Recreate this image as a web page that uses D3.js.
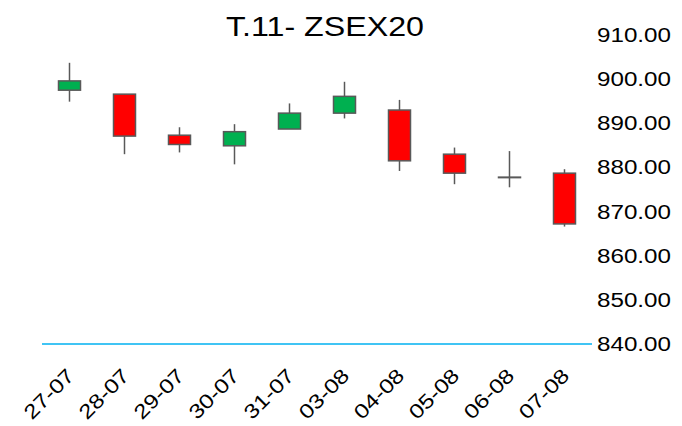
<!DOCTYPE html>
<html>
<head>
<meta charset="utf-8">
<script src="https://cdn.jsdelivr.net/npm/d3@7"></script>
<style>
  body { margin: 0; background: #fff; }
  text { font-family: "Liberation Sans", Arial, sans-serif; }
</style>
</head>
<body>
<div id="chart"></div>
<script>
// data
var dates = ['27-07','28-07','29-07','30-07','31-07','03-08','04-08','05-08','06-08','07-08'];
var opens  = [897.5, 896.6, 887.3, 884.9, 888.7, 892.3, 893.0, 883.0, 877.8, 878.7];
var highs  = [903.7, 896.6, 889.1, 889.8, 894.5, 899.4, 895.3, 884.5, 883.7, 879.6];
var lows   = [894.9, 883.0, 883.4, 880.7, 888.7, 891.1, 879.2, 876.2, 875.5, 866.6];
var closes = [899.6, 887.1, 885.2, 888.1, 892.3, 896.1, 881.5, 878.7, 877.8, 867.2];
var yTicks = [840, 850, 860, 870, 880, 890, 900, 910];

var data = dates.map(function(d, i) {
  return {date: d, open: opens[i], high: highs[i], low: lows[i], close: closes[i]};
});

var width = 682, height = 426;

var svg = d3.select('#chart').append('svg')
    .attr('width', width)
    .attr('height', height);

var x = d3.scaleBand()
    .domain(dates)
    .range([42, 592]);

var y = d3.scaleLinear()
    .domain([840, 910])
    .range([344, 35]);

// title (text in the original is a bit wide, so stretch it)
svg.append('text')
    .attr('transform', 'translate(325,36) scale(1.15,1)')
    .attr('text-anchor', 'middle')
    .style('font-size', '28px')
    .style('fill', '#000')
    .text('T.11- ZSEX20');

// base line
svg.append('line')
    .attr('x1', 42).attr('x2', 592)
    .attr('y1', y(840)).attr('y2', y(840))
    .style('stroke', '#00B0F0')
    .style('stroke-width', 1.5);

// y axis labels on the right
svg.selectAll('.ylab')
  .data(yTicks)
  .enter()
    .append('text')
    .attr('class', 'ylab')
    .attr('transform', function(d) { return 'translate(597,' + y(d) + ') scale(1.21,1)'; })
    .attr('dy', '0.35em')
    .style('font-size', '20px')
    .style('fill', '#000')
    .text(function(d) { return d3.format('.2f')(d); });

// x labels, rotated
svg.selectAll('.xlab')
  .data(dates)
  .enter()
    .append('text')
    .attr('class', 'xlab')
    .attr('text-anchor', 'end')
    .attr('transform', function(d) {
      return 'translate(' + (x(d) + x.bandwidth() / 2 + 6) + ',' + 377 + ') rotate(-45) scale(1.2,1)';
    })
    .style('font-size', '20px')
    .style('fill', '#000')
    .text(function(d) { return d; });

var candles = svg.selectAll('.candle')
  .data(data)
  .enter()
    .append('g')
    .attr('class', 'candle');

// wicks
candles.append('line')
    .attr('x1', function(d) { return x(d.date) + x.bandwidth() / 2; })
    .attr('x2', function(d) { return x(d.date) + x.bandwidth() / 2; })
    .attr('y1', function(d) { return y(d.high); })
    .attr('y2', function(d) { return y(d.low); })
    .style('stroke', '#595959')
    .style('stroke-width', 1.5);

var bw = 22;
// bodies
candles.append('rect')
    .attr('x', function(d) { return x(d.date) + x.bandwidth() / 2 - bw / 2; })
    .attr('y', function(d) { return y(Math.max(d.open, d.close)); })
    .attr('width', bw)
    .attr('height', function(d) { return Math.max(0.5, Math.abs(y(d.open) - y(d.close))); })
    .style('fill', function(d) { return d.close > d.open ? '#00B050' : (d.close < d.open ? '#FF0000' : '#595959'); })
    .style('stroke', '#595959')
    .style('stroke-width', 1.5);
</script>
</body>
</html>
